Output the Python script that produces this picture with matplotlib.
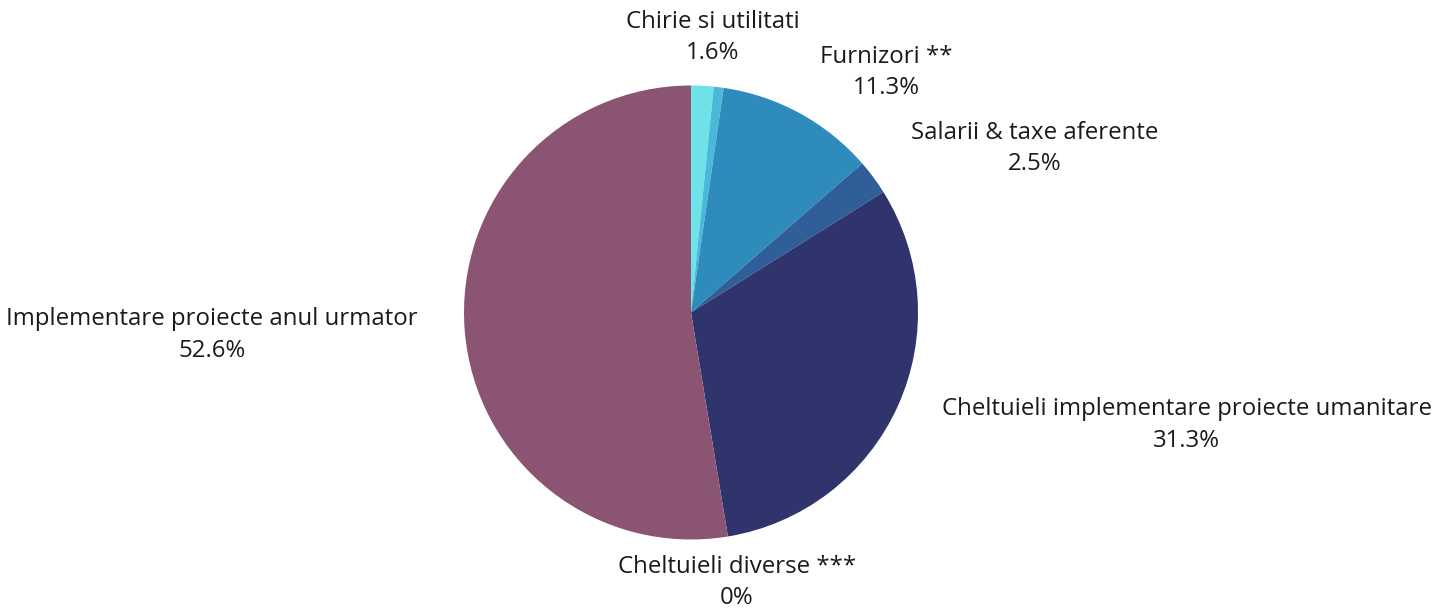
import numpy as np
import matplotlib.pyplot as plt

# ----------------------------
# data (percent of total, clockwise from top)
# ----------------------------
categories = ["Chirie si utilitati", "", "Furnizori **", "Salarii & taxe aferente",
              "Cheltuieli implementare proiecte umanitare", "Cheltuieli diverse ***",
              "Implementare proiecte anul urmator"]
shares = [1.6, 0.7, 11.3, 2.5, 31.3, 0.0, 52.6]
pct_labels = ["1.6%", "", "11.3%", "2.5%", "31.3%", "0%", "52.6%"]

colors = ["#6DE3E8", "#48B9D9", "#2E8BBB", "#2F5E98", "#30346C", "#30346C", "#8A5472"]
# label offset from the wedge edge, in pixels
label_offsets = [(10, 48), (0, 0), (87, 41), (161, 29), (289, -19), (9, -46), (-253, -4)]

plt.rcParams['font.family'] = ['Open Sans', 'DejaVu Sans']

fig = plt.figure(figsize=(14.48, 6.09), dpi=100)
cx, cy, r = 691, 609 - 312.5, 227
ax = fig.add_axes([(cx - r) / 1448, (cy - r) / 609, 2 * r / 1448, 2 * r / 609])

wedges, _ = ax.pie(shares, colors=colors, startangle=90, counterclock=False,
                   radius=1.0, wedgeprops=dict(linewidth=0))
ax.set_xlim(-1, 1)
ax.set_ylim(-1, 1)
ax.set_aspect('equal')
ax.axis('off')

for w, name, pct, off in zip(wedges, categories, pct_labels, label_offsets):
    if not name:
        continue
    mid = np.deg2rad((w.theta1 + w.theta2) / 2)
    ax.annotate(f"{name}\n{pct}", xy=(np.cos(mid), np.sin(mid)), xytext=off,
                textcoords='offset pixels', ha='center', va='center',
                fontsize=17.3, color='#1a1a1a', linespacing=1.4,
                annotation_clip=False)

fig.savefig("out.png", dpi=100)
